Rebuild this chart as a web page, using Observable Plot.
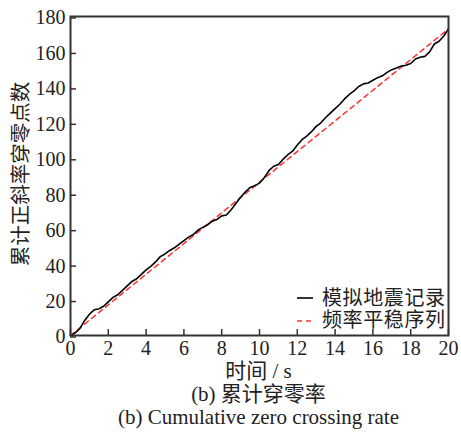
<!DOCTYPE html>
<html><head><meta charset="utf-8">
<script src="https://cdn.jsdelivr.net/npm/d3@7"></script>
<script src="https://cdn.jsdelivr.net/npm/@observablehq/plot@0.6"></script>
<style>
body{margin:0;background:#fff;}
#wrap{position:relative;width:461px;height:434px;overflow:hidden;background:#fff;}
#chart{position:absolute;left:0;top:0;}
.t{position:absolute;font-family:'Liberation Serif','Noto Sans CJK SC',serif;color:#222;white-space:nowrap;}
.cjk{font-family:'Noto Sans CJK SC',sans-serif;}
</style></head>
<body>
<div id="wrap">
  <div id="chart"></div>
  <div class="t cjk" id="ylab" style="font-size:20.5px;left:19px;top:174px;transform:translate(-50%,-50%) rotate(-90deg);line-height:21px;"></div>
  <div class="t" id="captions" style="font-size:21px;left:0;width:517px;top:360px;text-align:center;line-height:23px;"></div>
  <div id="legend"></div>
</div>
<script>
// ---- data ----
const xTicks = [0, 2, 4, 6, 8, 10, 12, 14, 16, 18, 20];
const yTicks = [0, 20, 40, 60, 80, 100, 120, 140, 160, 180];
const xLabel = "时间 / s";
const yLabel = "累计正斜率穿零点数";
const captionZh = "(b) 累计穿零率";
const captionEn = "(b) Cumulative zero crossing rate";
const seriesNames = ["模拟地震记录", "频率平稳序列"];
const recordTimes = [0,0.25,0.5,0.75,1,1.25,1.5,1.75,2,2.25,2.5,2.75,3,3.25,3.5,3.75,4,4.25,4.5,4.75,5,5.25,5.5,5.75,6,6.25,6.5,6.75,7,7.25,7.5,7.75,8,8.25,8.5,8.75,9,9.25,9.5,9.75,10,10.25,10.5,10.75,11,11.25,11.5,11.75,12,12.25,12.5,12.75,13,13.25,13.5,13.75,14,14.25,14.5,14.75,15,15.25,15.5,15.75,16,16.25,16.5,16.75,17,17.25,17.5,17.75,18,18.25,18.5,18.75,19,19.25,19.5,19.75,20];
const recordCounts = [0,1.5,4,8.5,12,14.5,15,16.5,19,21.5,23,25.5,28,30.5,32,34.5,37,39,41.5,44.5,46,48,49.5,51.5,53.5,55.5,57,59.5,61,62.5,64.5,65.5,67.5,68,71,74.5,78,81,83.5,84.5,86,89,93,95.5,96.5,99.5,102,104,107.5,110.5,112.5,115,118,120,123,125.5,128,130.5,133.5,136,138,140.5,142,142.5,144,145.5,146.5,148.5,150,151,152,152.5,153.5,156,157,157.5,160,164.5,166,169,173];
const stationaryTimes = [0, 20];
const stationaryCounts = [0, 173];

const record = recordTimes.map((t, i) => ({t, v: recordCounts[i]}));
const stationary = stationaryTimes.map((t, i) => ({t, v: stationaryCounts[i]}));

document.getElementById("ylab").textContent = yLabel;
document.getElementById("captions").innerHTML = `${xLabel}<br>${captionZh}<br>${captionEn}`;

const chart = Plot.plot({
  width: 461, height: 395,
  marginLeft: 70, marginRight: 13, marginTop: 16, marginBottom: 60,
  style: {fontFamily: "'Liberation Serif', serif", fontSize: "20px", color: "#222", background: "#fff", overflow: "visible"},
  x: {domain: [0, 20], label: null},
  y: {domain: [0, 180], label: null},
  marks: [
    Plot.line(stationary, {x: "t", y: "v", stroke: "#ff3030", strokeWidth: 1.5, strokeDasharray: "5,4"}),
    Plot.line(record, {x: "t", y: "v", stroke: "#000", strokeWidth: 1.6}),
    Plot.frame({stroke: "#333", strokeWidth: 2}),
    Plot.axisX(xTicks, {anchor: "bottom", tickSize: -6, tickPadding: 11, label: null, stroke: "#333", strokeWidth: 1.5, fill: "#222"}),
    Plot.axisY(yTicks, {anchor: "left", tickSize: -6, tickPadding: 11, dy: 1.5, label: null, stroke: "#333", strokeWidth: 1.5, fill: "#222"})
  ]
});
document.getElementById("chart").appendChild(chart);

// legend: swatches + one text block
const lg = document.getElementById("legend");
lg.innerHTML = `
<svg style="position:absolute;left:297px;top:296px" width="18" height="4"><line x1="0" y1="2" x2="16" y2="2" stroke="#000" stroke-width="1.6"/></svg>
<svg style="position:absolute;left:297px;top:319px" width="18" height="4"><line x1="0" y1="2" x2="17" y2="2" stroke="#ff3030" stroke-width="1.5" stroke-dasharray="5,4"/></svg>
<div class="t cjk" style="left:322px;top:286px;font-size:20px;letter-spacing:0.6px;line-height:22px;">${seriesNames[0]}<br>${seriesNames[1]}</div>`;
</script>
</body></html>
